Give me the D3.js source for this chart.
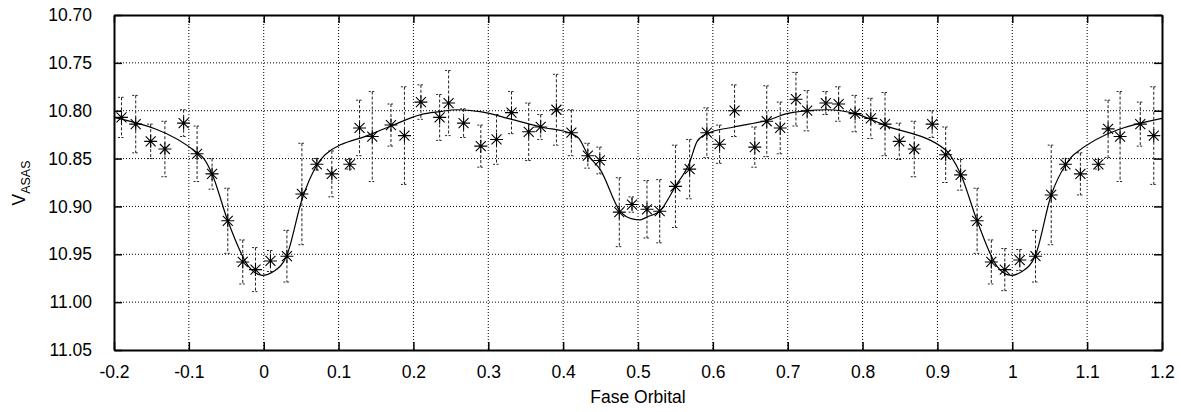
<!DOCTYPE html>
<meta charset="utf-8">
<html>

<head>
    <script src="https://d3js.org/d3.v7.min.js"></script>
    <title>Fase Orbital - V ASAS</title>
    <style>
        body { margin: 0; background: #fff; }
        text { font-family: "Liberation Sans", Arial, Helvetica, sans-serif; }
    </style>
</head>

<body>
    <div id="chart"></div>

    <script>

        // observed points (phase, magnitude, error)
        var obsPhase = [-0.190, -0.171, -0.151, -0.132, -0.107, -0.089, -0.069, -0.048, -0.028, -0.011,
            0.009, 0.031, 0.051, 0.071, 0.091, 0.115, 0.128, 0.145, 0.170, 0.188,
            0.210, 0.235, 0.247, 0.267, 0.290, 0.311, 0.331, 0.354, 0.370, 0.391,
            0.411, 0.433, 0.449, 0.475, 0.492, 0.512, 0.529, 0.550, 0.569, 0.592,
            0.609, 0.629, 0.656, 0.672, 0.690, 0.711, 0.726, 0.751, 0.768, 0.790,
            0.811, 0.830, 0.849, 0.869, 0.893, 0.911, 0.931, 0.953, 0.972, 0.990,
            1.010, 1.031, 1.052, 1.071, 1.091, 1.115, 1.128, 1.144, 1.171, 1.189];
        var obsMag = [10.807, 10.814, 10.832, 10.840, 10.813, 10.845, 10.866, 10.915, 10.958, 10.966,
            10.957, 10.952, 10.887, 10.856, 10.866, 10.856, 10.818, 10.827, 10.815, 10.826,
            10.791, 10.807, 10.792, 10.813, 10.837, 10.830, 10.802, 10.822, 10.817, 10.799,
            10.823, 10.847, 10.852, 10.906, 10.898, 10.903, 10.905, 10.879, 10.861, 10.823,
            10.835, 10.800, 10.838, 10.811, 10.818, 10.788, 10.800, 10.792, 10.793, 10.803,
            10.808, 10.814, 10.832, 10.840, 10.814, 10.846, 10.867, 10.915, 10.958, 10.966,
            10.956, 10.952, 10.888, 10.856, 10.866, 10.856, 10.819, 10.827, 10.814, 10.826];
        var obsErr = [0.021, 0.030, 0.018, 0.029, 0.014, 0.029, 0.016, 0.034, 0.023, 0.023,
            0.011, 0.027, 0.053, 0.006, 0.024, 0.005, 0.029, 0.047, 0.022, 0.051,
            0.018, 0.024, 0.034, 0.015, 0.022, 0.026, 0.022, 0.030, 0.013, 0.037,
            0.024, 0.013, 0.014, 0.036, 0.008, 0.030, 0.033, 0.043, 0.031, 0.026,
            0.020, 0.027, 0.021, 0.037, 0.027, 0.028, 0.021, 0.012, 0.018, 0.019,
            0.021, 0.033, 0.019, 0.029, 0.014, 0.029, 0.016, 0.034, 0.023, 0.022,
            0.011, 0.027, 0.052, 0.006, 0.022, 0.005, 0.030, 0.047, 0.023, 0.051];

        // model light curve
        var modelPhase = [-0.200, -0.089, -0.080, -0.069, -0.048, -0.020, -0.002, 0.013, 0.031, 0.051,
            0.071, 0.082, 0.142, 0.170, 0.210, 0.235, 0.258, 0.289, 0.331, 0.370,
            0.411, 0.421, 0.433, 0.450, 0.476, 0.492, 0.503, 0.512, 0.529, 0.550,
            0.569, 0.579, 0.592, 0.628, 0.673, 0.699, 0.726, 0.753, 0.790, 0.829,
            0.911, 0.920, 0.931, 0.953, 0.980, 0.998, 1.013, 1.031, 1.052, 1.071,
            1.082, 1.200];
        var modelMag = [10.807, 10.844, 10.850, 10.866, 10.915, 10.963, 10.972, 10.968, 10.951, 10.893,
            10.857, 10.846, 10.825, 10.816, 10.804, 10.801, 10.799, 10.801, 10.809, 10.817,
            10.824, 10.829, 10.846, 10.862, 10.905, 10.913, 10.914, 10.911, 10.905, 10.879,
            10.854, 10.832, 10.824, 10.817, 10.810, 10.803, 10.800, 10.799, 10.803, 10.815,
            10.841, 10.850, 10.866, 10.915, 10.963, 10.972, 10.968, 10.951, 10.888, 10.857,
            10.846, 10.808];

        var xTicks = [-0.2, -0.1, 0, 0.1, 0.2, 0.3, 0.4, 0.5, 0.6, 0.7, 0.8, 0.9, 1.0, 1.1, 1.2];
        var yTicks = [10.70, 10.75, 10.80, 10.85, 10.90, 10.95, 11.00, 11.05];

        // set the dimensions and margins of the graph
        var margin = { top: 15, right: 19, bottom: 62, left: 114 };
        var width = 1181 - margin.left - margin.right;
        var height = 412 - margin.top - margin.bottom;

        var svg = d3.select("#chart")
            .append("svg")
            .attr("width", 1181)
            .attr("height", 412)
            .append("g")
            .attr("transform", "translate(" + margin.left + "," + margin.top + ")");

        var x = d3.scaleLinear().domain([-0.2, 1.2]).range([0, width]);
        var y = d3.scaleLinear().domain([10.70, 11.05]).range([0, height]);

        // grid
        svg.append("g")
            .selectAll("line")
            .data(xTicks.slice(1, -1))
            .enter()
            .append("line")
            .attr("x1", function (d) { return x(d); })
            .attr("x2", function (d) { return x(d); })
            .attr("y1", 0)
            .attr("y2", height)
            .attr("stroke", "#000")
            .attr("stroke-width", 1)
            .attr("stroke-dasharray", "1,2");
        svg.append("g")
            .selectAll("line")
            .data(yTicks.slice(1, -1))
            .enter()
            .append("line")
            .attr("x1", 0)
            .attr("x2", width)
            .attr("y1", function (d) { return y(d); })
            .attr("y2", function (d) { return y(d); })
            .attr("stroke", "#000")
            .attr("stroke-width", 1)
            .attr("stroke-dasharray", "1,2");

        // axes with inward ticks on all four sides
        var fmtX = function (d) { return String(+d.toFixed(1)); };
        var fmtY = d3.format(".2f");

        var xAxis = svg.append("g")
            .attr("transform", "translate(0," + height + ")")
            .call(d3.axisBottom(x).tickValues(xTicks).tickFormat(fmtX).tickSizeInner(-8).tickSizeOuter(0).tickPadding(16));
        var xAxisTop = svg.append("g")
            .call(d3.axisTop(x).tickValues(xTicks).tickFormat("").tickSizeInner(-8).tickSizeOuter(0));
        var yAxis = svg.append("g")
            .call(d3.axisLeft(y).tickValues(yTicks).tickFormat(fmtY).tickSizeInner(-8).tickSizeOuter(0).tickPadding(22));
        var yAxisRight = svg.append("g")
            .attr("transform", "translate(" + width + ",0)")
            .call(d3.axisRight(y).tickValues(yTicks).tickFormat("").tickSizeInner(-8).tickSizeOuter(0));

        svg.selectAll(".domain").attr("stroke", "#000").attr("stroke-width", 2);
        svg.selectAll(".tick line").attr("stroke", "#000").attr("stroke-width", 1.5);
        svg.selectAll(".tick text")
            .attr("fill", "#000")
            .style("font-size", "17.5px");

        // error bars
        var pts = obsPhase.map(function (p, i) { return { p: p, m: obsMag[i], e: obsErr[i] }; });

        var err = svg.append("g")
            .attr("stroke", "#222")
            .attr("stroke-width", 1)
            .attr("stroke-dasharray", "3,2");
        err.selectAll(".ev")
            .data(pts)
            .enter()
            .append("line")
            .attr("x1", function (d) { return x(d.p); })
            .attr("x2", function (d) { return x(d.p); })
            .attr("y1", function (d) { return y(d.m - d.e); })
            .attr("y2", function (d) { return y(d.m + d.e); });
        [-1, 1].forEach(function (s) {
            err.selectAll(".cap" + s)
                .data(pts)
                .enter()
                .append("line")
                .attr("x1", function (d) { return x(d.p) - 3.5; })
                .attr("x2", function (d) { return x(d.p) + 3.5; })
                .attr("y1", function (d) { return y(d.m + s * d.e); })
                .attr("y2", function (d) { return y(d.m + s * d.e); })
                .attr("stroke-dasharray", "2,1.5");
        });

        // model curve
        var line = d3.line()
            .x(function (d, i) { return x(modelPhase[i]); })
            .y(function (d, i) { return y(modelMag[i]); })
            .curve(d3.curveMonotoneX);
        svg.append("path")
            .attr("d", line(modelPhase))
            .attr("fill", "none")
            .attr("stroke", "#000")
            .attr("stroke-width", 1.2);

        // star markers
        var star = "M-6.5,0L6.5,0M0,-6.5L0,6.5M-5,-5L5,5M-5,5L5,-5";
        svg.append("g")
            .selectAll("path")
            .data(pts)
            .enter()
            .append("path")
            .attr("transform", function (d) { return "translate(" + x(d.p) + "," + y(d.m) + ")"; })
            .attr("d", star)
            .attr("stroke", "#000")
            .attr("stroke-width", 1.1)
            .attr("fill", "none");

        // axis labels
        svg.append("text")
            .attr("x", width / 2)
            .attr("y", height + 53)
            .attr("text-anchor", "middle")
            .style("font-size", "17.5px")
            .text("Fase Orbital");

        var yl = svg.append("text")
            .attr("transform", "translate(" + (25 - margin.left) + "," + (183 - margin.top) + ") rotate(-90)")
            .attr("text-anchor", "middle")
            .style("font-size", "17.5px");
        yl.append("tspan").text("V");
        yl.append("tspan").attr("dy", 5).style("font-size", "12.5px").text("ASAS");

    </script>

</body>

</html>
